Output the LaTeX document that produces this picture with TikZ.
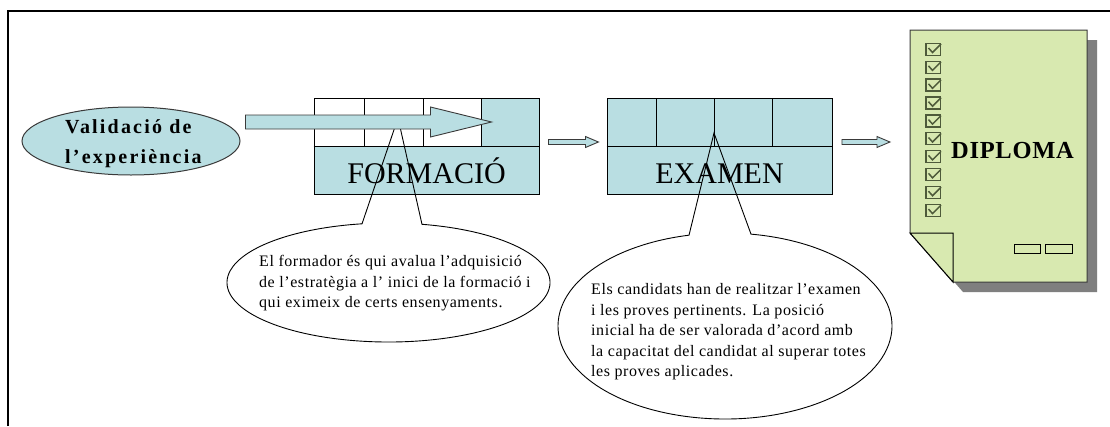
\documentclass[tikz,border=0pt]{standalone}
\usepackage{fontspec}
\setmainfont{Liberation Serif}
\newfontfamily\validfont[LetterSpace=11]{Liberation Serif}
\newfontfamily\callfont[LetterSpace=3.5]{Liberation Serif}
\newfontfamily\diplfont[LetterSpace=3]{Liberation Serif}
\usetikzlibrary{calc,shapes.geometric}
\definecolor{pblue}{HTML}{B9DEE2}
\definecolor{pgreen}{HTML}{D8E9B0}
\definecolor{pshadow}{HTML}{7F7F7F}
\definecolor{pline}{HTML}{3A3A3A}
\definecolor{pcheck}{HTML}{4E5A3A}
\newcommand{\myfatarrow}[6]{%
  \draw[#6] ($(#1)+(0,-#4)$) -- ++(#2-#3,0) -- ++(0,#4-#5) -- ++(#3,#5) -- ++(-#3,#5) -- ++(0,#4-#5) -- ++(-#2+#3,0) -- cycle;}
\begin{document}
\begin{tikzpicture}[x=1pt,y=-1pt,
  fatarr/.style={fill=pblue,draw=pline,line width=0.9pt,line join=miter},
  gridbox/.style={draw=black,line width=0.9pt,minimum width=225pt,minimum height=96pt,inner sep=0pt},
  gridline/.style={draw=black,line width=0.9pt},
  bigtext/.style={font=\fontsize{30}{30}\selectfont,inner sep=0pt,anchor=base},
  callout/.style={draw=black,line width=0.9pt,line join=miter},
  calltext/.style={font=\callfont\fontsize{16}{20.5}\selectfont,align=left,inner sep=0pt,anchor=north west},
  checkbox/.style={draw=pcheck,line width=1.3pt},
  checkmark/.style={draw=pcheck,line width=1.5pt}]
\useasboundingbox (0,0) rectangle (1110,426);
\fill[white] (0,0) rectangle (1110,426);
% frame
\draw[line width=2.2pt] (8,426) -- (8,11) -- (1110,11);

% starting ellipse
\node[ellipse,draw=pline,fill=pblue,line width=1pt,minimum width=218pt,minimum height=68pt,inner sep=0pt] (valid) at (131,141) {};
\node[font=\validfont\bfseries\fontsize{20}{30.5}\selectfont,align=left,inner sep=0pt,anchor=north west] (validt) at (65,119) {Validació de\\l’experiència};

% FORMACIO box
\fill[pblue] (314,146) rectangle (539,194);
\fill[pblue] (481,98) rectangle (539,146);
\node[gridbox] (form) at (426.5,146) {};
\draw[gridline] (form.west) -- (form.east);
\draw[gridline] (364,98) -- (364,146);
\draw[gridline] (423,98) -- (423,146);
\draw[gridline] (481,98) -- (481,146);
\node[bigtext] (formt) at (426.5,183) {FORMACIÓ};

% EXAMEN box
\node[gridbox,fill=pblue] (exam) at (719.5,146) {};
\draw[gridline] (exam.west) -- (exam.east);
\draw[gridline] (656.5,98) -- (656.5,146);
\draw[gridline] (714,98) -- (714,146);
\draw[gridline] (772.5,98) -- (772.5,146);
\node[bigtext] (examt) at (719.5,183) {EXAMEN};

% callout 1
\coordinate (c1) at (388.5,282.5);
\coordinate (p1) at (398,118);
\draw[callout] ($(c1)+(260.56:161.5 and 59.5)$) -- (p1) -- ($(c1)+(281.97:161.5 and 59.5)$)
  arc[start angle=281.97,end angle=620.56,x radius=161.5,y radius=59.5] -- cycle;
\node[calltext] (ct1) at (259,255.5) {El formador és qui avalua l’adquisició\\de l’estratègia a l’ inici de la formació i\\qui eximeix de certs ensenyaments.};

% callout 2
\coordinate (c2) at (725,326);
\coordinate (p2) at (714,133);
\draw[callout] ($(c2)+(257.55:167 and 93)$) -- (p2) -- ($(c2)+(278.96:167 and 93)$)
  arc[start angle=278.96,end angle=617.55,x radius=167,y radius=93] -- cycle;
\node[calltext] (ct2) at (591,283.5) {Els candidats han de realitzar l’examen\\i les proves pertinents. La posició\\inicial ha de ser valorada d’acord amb\\la capacitat del candidat al superar totes\\les proves aplicades.};

% big arrow from the ellipse into the training box
\coordinate (bigs) at ($(valid.east)+(5,-19)$);
\myfatarrow{bigs}{246}{61}{7}{15}{fatarr}

% diploma
\fill[pshadow] (920,40) -- (1097,40) -- (1097,292) -- (963,292) -- (920,243) -- cycle;
\draw[fill=pgreen,draw=pline,line width=1pt,line join=miter] (910,30) -- (1087,30) -- (1087,282) -- (953,282) -- (910,233) -- cycle;
\draw[fill=pgreen,draw=black,line width=1pt,line join=miter] (910,233) -- (953,233) -- (953,282) -- cycle;
\foreach \i in {0,...,9} {
  \draw[checkbox] (926,43.3+17.9*\i) rectangle ++(14.5,12);
  \draw[checkmark] (928.5,48+17.9*\i) -- ++(4,4.5) -- ++(8.5,-8.5);
}
\draw[line width=0.9pt] (1014,244) rectangle (1040,253);
\draw[line width=0.9pt] (1045,244) rectangle (1072,253);
\node[font=\diplfont\bfseries\fontsize{24.5}{24.5}\selectfont,inner sep=0pt,anchor=base] (dipl) at (1012.5,158) {DIPLOMA};

% small arrows between stages
\coordinate (a1) at ($(form.east)+(9,-4)$);
\myfatarrow{a1}{50}{13}{2.5}{5.5}{fatarr}
\coordinate (a2) at ($(exam.east)+(9.5,-4)$);
\myfatarrow{a2}{48}{13}{2.5}{5.5}{fatarr}
\end{tikzpicture}
\end{document}
